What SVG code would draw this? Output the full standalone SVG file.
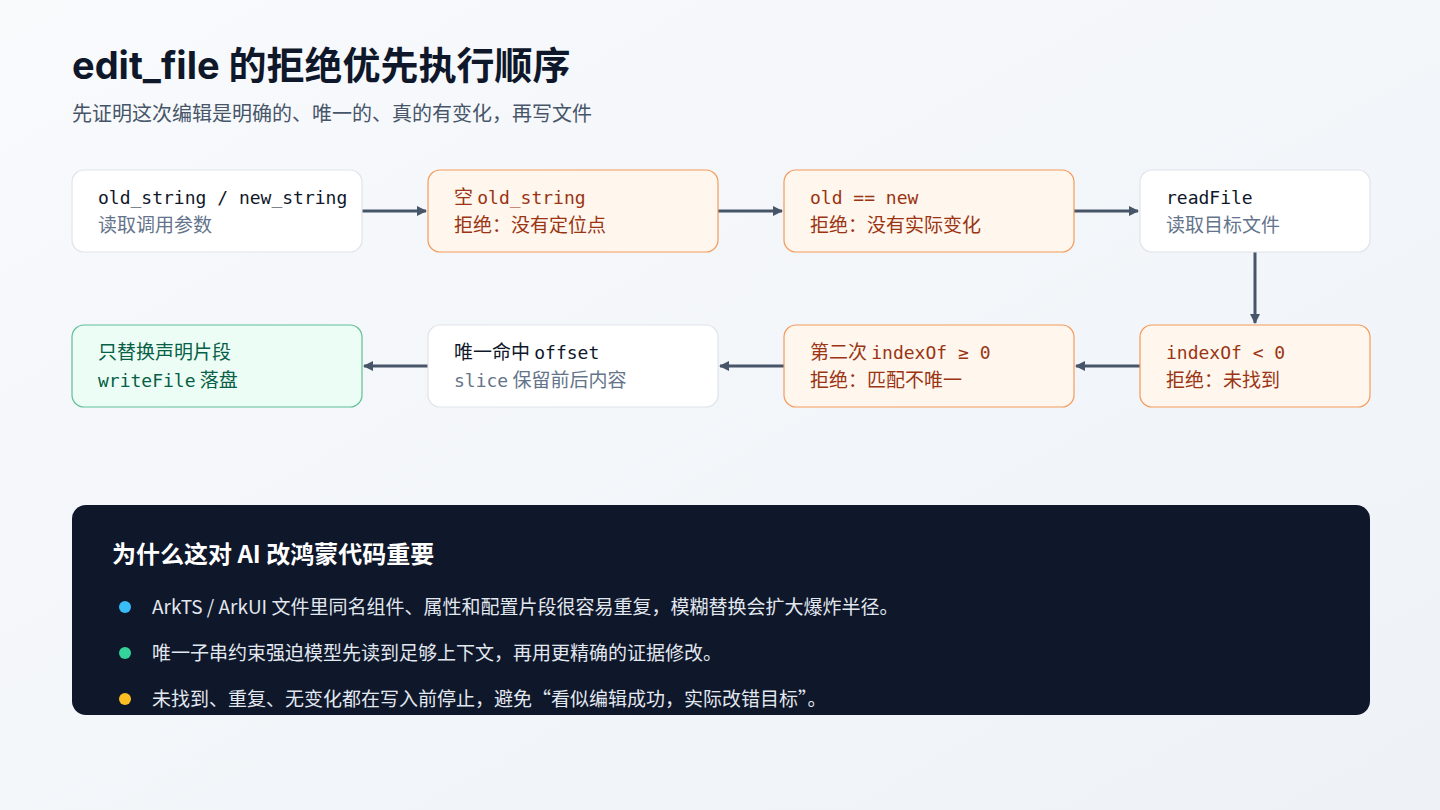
<svg xmlns="http://www.w3.org/2000/svg" width="1440" height="810" viewBox="0 0 1440 810">
<defs>
<linearGradient id="bg" x1="0" y1="0" x2="1" y2="1"><stop offset="0" stop-color="#f8fafc"/><stop offset="1" stop-color="#eef2f7"/></linearGradient>
<marker id="ah" viewBox="0 0 10 10" refX="9" refY="5" markerWidth="10" markerHeight="10" markerUnits="userSpaceOnUse" orient="auto"><path d="M0,0 L10,5 L0,10 z" fill="#475569"/></marker>
<style>
.box{stroke-width:1.2}
.w{fill:#fff;stroke:#dfe4ea}
.o{fill:#fff6ed;stroke:#f59a5b}
.g{fill:#ecfdf5;stroke:#5fbf97}
.m{font-family:"DejaVu Sans Mono","Liberation Mono",monospace;font-size:18px}
.c{font-family:"Noto Sans CJK SC",sans-serif;font-size:19px}
.t1{fill:#0f172a}.s1{fill:#64748b}
.to{fill:#9a3412}.tg{fill:#065f46}
.conn{stroke:#475569;stroke-width:3;fill:none}
.b{font-family:"Noto Sans CJK SC",sans-serif;font-size:19px;fill:#e2e8f0}
</style>
</defs>
<rect width="1440" height="810" fill="url(#bg)"/>
<text x="72" y="79" font-family="Inter,'Noto Sans CJK SC',sans-serif" font-size="38" font-weight="700" fill="#0f172a">edit_file 的拒绝优先执行顺序</text>
<text x="72" y="121" font-family="'Noto Sans CJK SC',sans-serif" font-size="20" fill="#475569">先证明这次编辑是明确的、唯一的、真的有变化，再写文件</text>

<g id="connectors">
<path class="conn" d="M362 211 H426" marker-end="url(#ah)"/>
<path class="conn" d="M718 211 H782" marker-end="url(#ah)"/>
<path class="conn" d="M1074 211 H1138" marker-end="url(#ah)"/>
<path class="conn" d="M1255 252 V323" marker-end="url(#ah)"/>
<path class="conn" d="M1140 366 H1076" marker-end="url(#ah)"/>
<path class="conn" d="M784 366 H720" marker-end="url(#ah)"/>
<path class="conn" d="M428 366 H364" marker-end="url(#ah)"/>
</g>

<g id="n1"><rect class="box w" x="72" y="170" width="290" height="82" rx="12"/>
<text class="m t1" x="98" y="204">old_string / new_string</text>
<text class="c s1" x="98" y="232">读取调用参数</text></g>
<g id="n2"><rect class="box o" x="428" y="170" width="290" height="82" rx="12"/>
<text class="to" x="454" y="204"><tspan class="c">空 </tspan><tspan class="m">old_string</tspan></text>
<text class="c to" x="454" y="232">拒绝：没有定位点</text></g>
<g id="n3"><rect class="box o" x="784" y="170" width="290" height="82" rx="12"/>
<text class="m to" x="810" y="204">old == new</text>
<text class="c to" x="810" y="232">拒绝：没有实际变化</text></g>
<g id="n4"><rect class="box w" x="1140" y="170" width="230" height="82" rx="12"/>
<text class="m t1" x="1166" y="204">readFile</text>
<text class="c s1" x="1166" y="232">读取目标文件</text></g>
<g id="n5"><rect class="box o" x="1140" y="325" width="230" height="82" rx="12"/>
<text class="m to" x="1166" y="359">indexOf &lt; 0</text>
<text class="c to" x="1166" y="387">拒绝：未找到</text></g>
<g id="n6"><rect class="box o" x="784" y="325" width="290" height="82" rx="12"/>
<text class="to" x="810" y="359"><tspan class="c">第二次 </tspan><tspan class="m">indexOf ≥ 0</tspan></text>
<text class="c to" x="810" y="387">拒绝：匹配不唯一</text></g>
<g id="n7"><rect class="box w" x="428" y="325" width="290" height="82" rx="12"/>
<text class="t1" x="454" y="359"><tspan class="c">唯一命中 </tspan><tspan class="m">offset</tspan></text>
<text class="s1" x="454" y="387"><tspan class="m">slice</tspan><tspan class="c"> 保留前后内容</tspan></text></g>
<g id="n8"><rect class="box g" x="72" y="325" width="290" height="82" rx="12"/>
<text class="c tg" x="98" y="359">只替换声明片段</text>
<text class="tg" x="98" y="387"><tspan class="m">writeFile</tspan><tspan class="c"> 落盘</tspan></text></g>

<g id="panel">
<rect x="72" y="505" width="1298" height="210" rx="14" fill="#0f172a"/>
<text x="112" y="563" font-family="'Noto Sans CJK SC',sans-serif" font-size="24" font-weight="700" fill="#fff">为什么这对 AI 改鸿蒙代码重要</text>
<circle cx="125" cy="607" r="6" fill="#38bdf8"/>
<text class="b" x="152" y="614">ArkTS / ArkUI 文件里同名组件、属性和配置片段很容易重复，模糊替换会扩大爆炸半径。</text>
<circle cx="125" cy="653" r="6" fill="#34d399"/>
<text class="b" x="152" y="660">唯一子串约束强迫模型先读到足够上下文，再用更精确的证据修改。</text>
<circle cx="125" cy="699" r="6" fill="#fbbf24"/>
<text class="b" x="152" y="706">未找到、重复、无变化都在写入前停止，避免“看似编辑成功，实际改错目标”。</text>
</g>
</svg>
